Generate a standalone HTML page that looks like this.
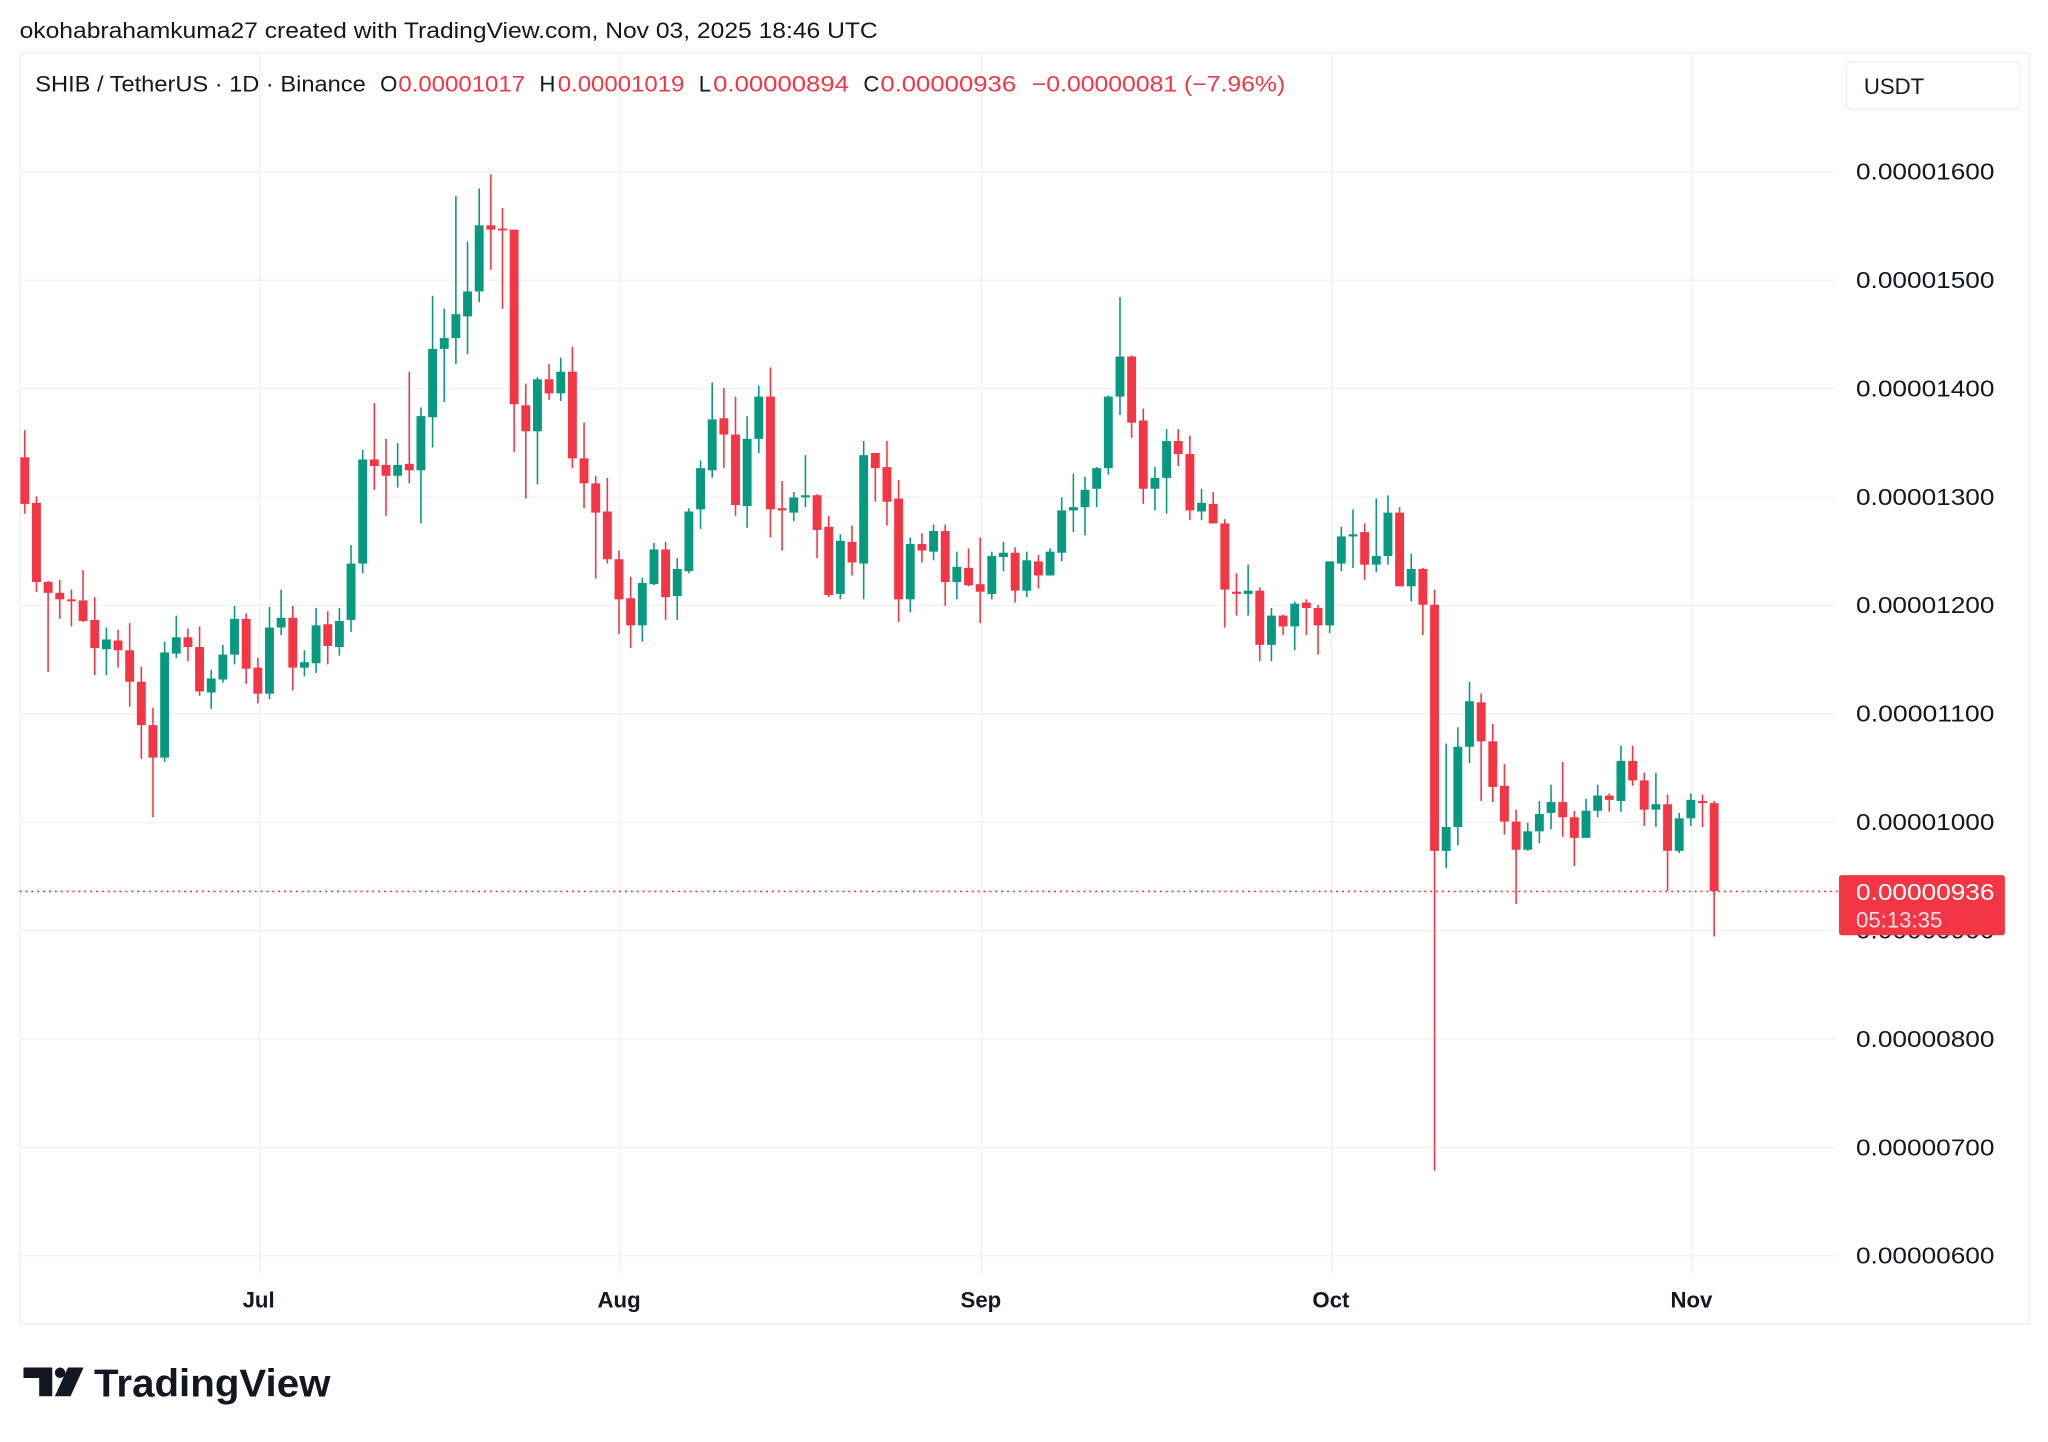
<!DOCTYPE html>
<html><head><meta charset="utf-8">
<style>
html,body{margin:0;padding:0;background:#fff;}
svg{display:block;}
text{font-family:"Liberation Sans",Arial,sans-serif;}
</style></head>
<body>
<svg id="c" xmlns="http://www.w3.org/2000/svg" width="2048" height="1442" viewBox="0 0 1568 1104" preserveAspectRatio="none">
<rect width="1568" height="1104" fill="#fff"/>
<text x="15" y="29" font-size="17" fill="#131722" textLength="657" lengthAdjust="spacingAndGlyphs">okohabrahamkuma27 created with TradingView.com, Nov 03, 2025 18:46 UTC</text>
<rect x="15.5" y="40.5" width="1538" height="973" fill="none" stroke="#eceef2"/>
<g id="grid" stroke="#f0f1f3" stroke-width="1"></g>
<g id="candles"></g>
<line x1="15" y1="682.5" x2="1408" y2="682.5" stroke="#F23645" stroke-width="1.2" stroke-dasharray="1.5,3"/>
<text x="27" y="70" font-size="17" fill="#131722" textLength="253" lengthAdjust="spacingAndGlyphs">SHIB / TetherUS · 1D · Binance</text>
<text x="291" y="70" font-size="17" fill="#131722">O</text>
<text x="305" y="70" font-size="17" fill="#F23645" textLength="97" lengthAdjust="spacingAndGlyphs">0.00001017</text>
<text x="413" y="70" font-size="17" fill="#131722">H</text>
<text x="427" y="70" font-size="17" fill="#F23645" textLength="97" lengthAdjust="spacingAndGlyphs">0.00001019</text>
<text x="535" y="70" font-size="17" fill="#131722">L</text>
<text x="546" y="70" font-size="17" fill="#F23645" textLength="104" lengthAdjust="spacingAndGlyphs">0.00000894</text>
<text x="661" y="70" font-size="17" fill="#131722">C</text>
<text x="674" y="70" font-size="17" fill="#F23645" textLength="104" lengthAdjust="spacingAndGlyphs">0.00000936</text>
<text x="790" y="70" font-size="17" fill="#F23645" textLength="194" lengthAdjust="spacingAndGlyphs">−0.00000081 (−7.96%)</text>
<rect x="1413.5" y="47.5" width="133" height="36" rx="4" fill="#fff" stroke="#eceef2"/>
<text x="1427" y="72" font-size="17" fill="#131722">USDT</text>
<g id="plabels" font-size="18" fill="#131722"></g>
<g font-size="17" fill="#131722" font-weight="bold" text-anchor="middle">
<text x="198" y="1001">Jul</text><text x="474" y="1001">Aug</text><text x="751" y="1001">Sep</text><text x="1019" y="1001">Oct</text><text x="1295" y="1001">Nov</text>
</g>
<rect x="1408" y="670" width="127" height="46" rx="2" fill="#F23645"/>
<text x="1421" y="689" font-size="18" fill="#fff" textLength="106" lengthAdjust="spacingAndGlyphs">0.00000936</text>
<text x="1421" y="710" font-size="17" fill="#fde3e5">05:13:35</text>
<g fill="#131722">
<path d="M18 1047 h22 v22 h-10 v-14 h-12 z"/>
<circle cx="46" cy="1051" r="4"/>
<path d="M52 1047 h12 l-10 22 h-12 z"/>
</g>
<text x="72" y="1069" font-size="30" font-weight="bold" fill="#131722" textLength="181" lengthAdjust="spacingAndGlyphs">TradingView</text>
</svg>
<script>
var NS="http://www.w3.org/2000/svg";
function Y(p){return 131+(1600-p)*0.83;}
var grid=document.getElementById('grid');
function ln(x1,y1,x2,y2){var l=document.createElementNS(NS,'line');l.setAttribute('x1',x1);l.setAttribute('y1',y1);l.setAttribute('x2',x2);l.setAttribute('y2',y2);grid.appendChild(l);}
var pl=document.getElementById('plabels');
for(var p=600;p<=1600;p+=100){var y=Math.round(Y(p))+0.5;ln(15,y,1405,y);
 var t=document.createElementNS(NS,'text');t.setAttribute('x',1421);t.setAttribute('y',Y(p)+6.5);
 t.setAttribute('textLength',106);t.setAttribute('lengthAdjust','spacingAndGlyphs');
 var s=(p<1000?'0.00000'+p:'0.0000'+p);t.textContent=s;pl.appendChild(t);}
[198,474,751,1019,1295].forEach(function(x){ln(x+0.5,40,x+0.5,975);});
var d=[
[1336,1361,1284,1293],[1294,1300,1212,1221],[1221,1222,1138,1211],[1211,1223,1187,1205],[1205,1214,1180,1204],
[1204,1232,1184,1185],[1186,1207,1135,1160],[1159,1179,1135,1168],[1167,1177,1142,1158],[1158,1183,1106,1129],
[1129,1143,1058,1089],[1089,1105,1004,1059],[1059,1166,1055,1156],[1155,1190,1151,1170],[1170,1178,1148,1161],
[1161,1180,1116,1120],[1119,1140,1104,1132],[1131,1163,1128,1154],[1154,1199,1145,1187],[1187,1192,1127,1141],
[1142,1151,1109,1118],[1118,1198,1113,1179],[1179,1214,1172,1188],[1188,1199,1121,1142],[1142,1158,1134,1147],
[1146,1197,1137,1181],[1182,1194,1145,1162],[1161,1197,1153,1185],[1186,1255,1175,1238],[1238,1343,1229,1334],
[1334,1386,1306,1328],[1329,1353,1282,1319],[1319,1349,1308,1329],[1330,1415,1312,1324],[1324,1382,1275,1374],
[1373,1485,1345,1436],[1436,1473,1387,1446],[1446,1577,1422,1468],[1466,1535,1431,1489],[1489,1584,1479,1550],
[1550,1597,1509,1546],[1547,1566,1473,1546],[1546,1546,1341,1385],[1384,1404,1298,1360],[1360,1410,1311,1408],
[1408,1422,1389,1395],[1395,1428,1388,1415],[1415,1438,1326,1335],[1335,1368,1289,1312],[1312,1319,1224,1285],
[1286,1317,1238,1242],[1242,1250,1173,1205],[1206,1226,1160,1181],[1181,1225,1166,1220],[1219,1257,1218,1251],
[1251,1258,1186,1207],[1208,1243,1186,1233],[1231,1289,1229,1286],[1288,1333,1270,1326],[1324,1405,1317,1371],
[1372,1400,1326,1357],[1357,1392,1282,1292],[1291,1374,1271,1353],[1353,1402,1340,1392],[1392,1419,1262,1288],
[1289,1314,1250,1287],[1285,1304,1277,1299],[1299,1338,1290,1301],[1301,1302,1243,1269],[1272,1282,1207,1209],
[1210,1265,1205,1259],[1258,1273,1227,1239],[1238,1351,1205,1338],[1340,1340,1295,1326],[1327,1351,1273,1295],
[1298,1315,1184,1205],[1205,1262,1193,1256],[1256,1266,1239,1250],[1249,1274,1241,1268],[1268,1274,1199,1221],
[1221,1249,1205,1235],[1234,1252,1217,1218],[1219,1262,1183,1212],[1210,1249,1205,1245],[1244,1258,1231,1248],
[1248,1253,1202,1213],[1213,1249,1207,1241],[1240,1246,1215,1227],[1227,1252,1227,1249],[1248,1299,1240,1287],
[1287,1321,1267,1290],[1290,1318,1264,1306],[1307,1327,1290,1326],[1326,1393,1320,1392],[1392,1484,1375,1429],
[1429,1430,1354,1368],[1370,1381,1293,1307],[1307,1327,1287,1317],[1317,1362,1284,1351],[1351,1362,1328,1339],
[1339,1356,1278,1287],[1286,1307,1278,1294],[1293,1304,1275,1275],[1275,1279,1179,1214],[1212,1229,1190,1210],
[1210,1237,1190,1213],[1213,1216,1148,1163],[1163,1197,1148,1190],[1190,1191,1172,1180],[1180,1203,1158,1201],
[1202,1205,1172,1197],[1197,1200,1154,1181],[1181,1240,1174,1240],[1238,1272,1231,1263],[1263,1288,1234,1265],
[1267,1275,1223,1237],[1237,1298,1230,1245],[1245,1301,1237,1285],[1285,1290,1217,1217],[1217,1247,1203,1233],
[1233,1234,1172,1200],[1200,1214,678,973],[973,1072,957,995],[995,1087,978,1069],[1069,1129,1054,1111],
[1110,1118,1019,1074],[1074,1090,1018,1032],[1033,1053,988,1000],[1000,1011,924,974],[974,999,973,991],
[991,1019,980,1007],[1008,1034,993,1018],[1018,1055,986,1004],[1004,1010,959,985],[985,1021,985,1010],
[1010,1034,1004,1024],[1024,1026,1009,1020],[1019,1070,1009,1056],[1056,1070,1033,1038],[1038,1045,996,1011],
[1011,1045,995,1016],[1016,1025,936,973],[973,1008,971,1003],[1003,1026,996,1020],[1019,1025,995,1017],
[1017,1019,894,936]];
var g=document.getElementById('candles');
d.forEach(function(c,i){
 var x=19+i*8.92,o=c[0],h=c[1],l=c[2],cl=c[3];
 var col=cl>=o?'#089981':'#F23645';
 var w=document.createElementNS(NS,'rect');
 w.setAttribute('x',x-0.6);w.setAttribute('width',1.2);w.setAttribute('y',Y(h));w.setAttribute('height',Math.max(0.8,Y(l)-Y(h)));w.setAttribute('fill',col);g.appendChild(w);
 var b=document.createElementNS(NS,'rect');
 var top=Y(Math.max(o,cl)),bot=Y(Math.min(o,cl));
 b.setAttribute('x',x-3.4);b.setAttribute('width',6.8);b.setAttribute('y',top);b.setAttribute('height',Math.max(1.5,bot-top));b.setAttribute('fill',col);g.appendChild(b);
});
</script>
</body></html>
